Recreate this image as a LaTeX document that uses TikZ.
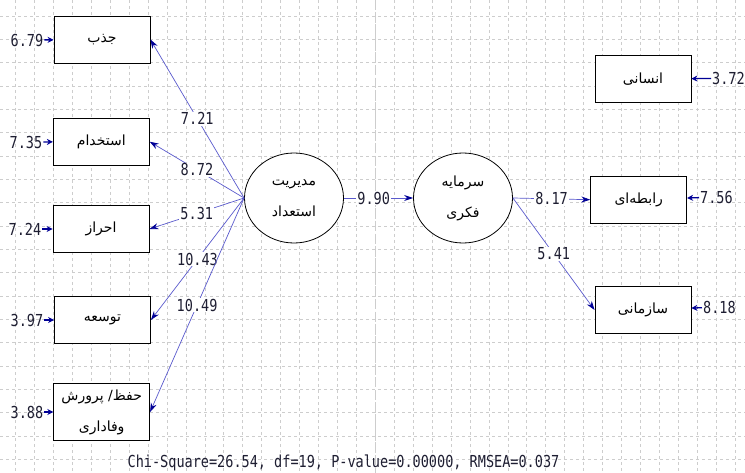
\documentclass[tikz,border=0pt]{standalone}
\usepackage{fontspec}
\usetikzlibrary{shapes.geometric,arrows.meta}
\newfontfamily\fafont[Script=Arabic]{DejaVu Sans}
\newfontfamily\numfont[FakeStretch=0.82]{DejaVu Sans Mono}
\TeXXeTstate=1
\newcommand\fatxt[1]{{\fafont\beginR#1\endR}}
\definecolor{pathblue}{RGB}{90,90,205}
\definecolor{tipblue}{RGB}{0,0,150}
\definecolor{numcol}{RGB}{30,30,50}
\definecolor{gridcol}{RGB}{205,205,205}
\begin{document}
\begin{tikzpicture}[x=1pt,y=-1pt,
    gridline/.style={gridcol,line width=.8pt,dash pattern=on 3pt off 3pt},
    ind/.style={draw,line width=.8pt,fill=white,minimum width=96pt,minimum height=47pt,inner sep=0pt,
      font=\fafont\fontsize{14}{31}\selectfont,align=center},
    lat/.style={ind,ellipse,minimum width=99pt,minimum height=90pt},
    num/.style={font=\numfont\fontsize{16.5}{18}\selectfont,text=numcol,inner sep=1pt},
    lbl/.style={num,fill=white},
    load/.style={pathblue,line width=.7pt,-{Stealth[length=9pt,width=6pt,color=tipblue]}},
    err/.style={tipblue,line width=1.3pt,-{Stealth[length=6pt,width=6pt]}}]
  \useasboundingbox (0,0) rectangle (745,473);
  \fill[white] (0,0) rectangle (745,473);
  \foreach \k in {0,...,38}
    \draw[gridline] ({15.5+18.94*\k},0) -- ++(0,473);
  \foreach \k in {0,...,19}
    \draw[gridline] (0,{16+23.33*\k}) -- ++(745,0);
  \draw[gridcol,line width=1.6pt,dash pattern=on 10pt off 3pt] (375.4,0) -- ++(0,473);

  \node[ind] (jazb) at (102,39.5) {\fatxt{جذب}};
  \node[ind] (estekhdam) at (101.3,141.7) {\fatxt{استخدام}};
  \node[ind] (ehraz) at (101,229) {\fatxt{احراز}};
  \node[ind] (tosee) at (102.5,320) {\fatxt{توسعه}};
  \node[ind,minimum height=57pt] (hefz) at (101.7,412) {\fatxt{حفظ/ پرورش}\\\fatxt{وفاداری}};
  \node[ind] (ensani) at (643,79) {\fatxt{انسانی}};
  \node[ind] (rabete) at (638.7,199.7) {\fatxt{رابطه‌ای}};
  \node[ind] (sazmani) at (643,310) {\fatxt{سازمانی}};
  \node[lat] (modiriat) at (294,198) {\fatxt{مدیریت}\\\fatxt{استعداد}};
  \node[lat] (sarmaye) at (463,198) {\fatxt{سرمایه}\\\fatxt{فکری}};

  \node[num] (ejazb) at (27,40) {6.79};
  \node[num] (eestekhdam) at (26,142) {7.35};
  \node[num] (eehraz) at (25,229) {7.24};
  \node[num] (etosee) at (27,320) {3.97};
  \node[num] (ehefz) at (27,412) {3.88};
  \node[num,anchor=west] (eensani) at (711,78.3) {3.72};
  \node[num,anchor=west] (erabete) at (699,197) {7.56};
  \node[num,anchor=west] (esazmani) at (702,307) {8.18};
  \draw[err] (ejazb) -- (jazb);
  \draw[err] (eestekhdam) -- (estekhdam);
  \draw[err] (eehraz) -- (ehraz);
  \draw[err] (etosee) -- (tosee);
  \draw[err] (ehefz) -- (hefz);
  \draw[err] (eensani) -- (ensani);
  \draw[err] (erabete) -- (rabete);
  \draw[err] (esazmani) -- (sazmani);

  \draw[load] (modiriat.west) -- node[lbl] {7.21} (jazb.east);
  \draw[load] (modiriat.west) -- node[lbl] {8.72} (estekhdam.east);
  \draw[load] (modiriat.west) -- node[lbl] {5.31} (ehraz.east);
  \draw[load] (modiriat.west) -- node[lbl] {10.43} (tosee.east);
  \draw[load] (modiriat.west) -- node[lbl] {10.49} (hefz.east);
  \draw[load] (modiriat.east) -- node[lbl,pos=.43] {9.90} (sarmaye.west);
  \draw[load] (sarmaye.east) -- node[lbl] {8.17} (rabete.west);
  \draw[load] (sarmaye.east) -- node[lbl] {5.41} (sazmani.west);

  \node[num] (fit) at (343.5,463) {Chi-Square=26.54, df=19, P-value=0.00000, RMSEA=0.037};
\end{tikzpicture}
\end{document}
